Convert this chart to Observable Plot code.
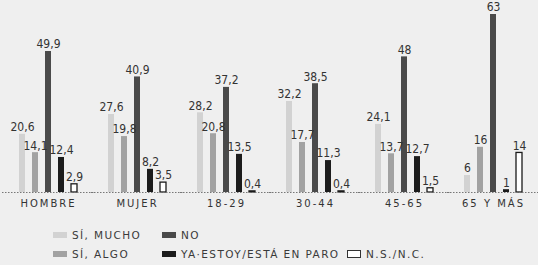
<!DOCTYPE html>
<html>
<head>
<meta charset="utf-8">
<script src="https://cdn.jsdelivr.net/npm/d3@7"></script>
<script src="https://cdn.jsdelivr.net/npm/@observablehq/plot@0.6"></script>
<style>
  html, body { margin: 0; padding: 0; background: #efefef; }
  #chart { width: 538px; height: 265px; overflow: hidden; background: #efefef; }
  #chart svg { display: block; background: #efefef; }
  #chart svg g[aria-label="fx-axis tick label"] text { letter-spacing: 2px; }
  .legend { position: relative; height: 50px; font-family: "DejaVu Sans", sans-serif; font-size: 10.5px; letter-spacing: 1.4px; color: #3a3a3a; }
  .legend .item { position: absolute; display: flex; align-items: center; white-space: nowrap; line-height: 12px; }
  .legend .sw { width: 14px; height: 6px; margin-right: 5px; box-sizing: border-box; }
</style>
</head>
<body>
<div id="chart"></div>
<script>
const groups = ["HOMBRE", "MUJER", "18-29", "30-44", "45-65", "65 Y MÁS"];
const series = ["SÍ, MUCHO", "SÍ, ALGO", "NO", "YA·ESTOY/ESTÁ EN PARO", "N.S./N.C."];
const siMucho = [20.6, 27.6, 28.2, 32.2, 24.1, 6];
const siAlgo = [14.1, 19.8, 20.8, 17.7, 13.7, 16];
const no = [49.9, 40.9, 37.2, 38.5, 48, 63];
const paro = [12.4, 8.2, 13.5, 11.3, 12.7, 1];
const nsnc = [2.9, 3.5, 0.4, 0.4, 1.5, 14];
const seriesValues = [siMucho, siAlgo, no, paro, nsnc];
const fills = ["#d2d2d2", "#a2a2a2", "#4a4a4a", "#1c1c1c", "#ffffff"];

const data = [];
groups.forEach((g, gi) => {
  series.forEach((s, si) => {
    data.push({group: g, series: s, value: seriesValues[si][gi]});
  });
});

const fmt = v => String(v).replace(".", ",");

const plot = Plot.plot({
  width: 538,
  height: 215,
  marginLeft: 2,
  marginRight: 0,
  marginTop: 14,
  marginBottom: 23,
  style: {background: "#efefef", fontFamily: "DejaVu Sans, sans-serif"},
  fx: {domain: groups, paddingInner: 0.33, paddingOuter: 0.16, label: null, axis: "bottom", tickSize: 0, tickPadding: 7, fontSize: 11},
  x: {domain: series, padding: 0.4, paddingOuter: 0, axis: null},
  y: {domain: [0, 63], axis: null},
  color: {domain: series, range: fills},
  marks: [
    Plot.barY(data, {fx: "group", x: "series", y: "value", fill: "series", insetLeft: 1, insetRight: 1,
      stroke: d => d.series === "N.S./N.C." ? "#1a1a1a" : "none", strokeWidth: 1.3}),
    Plot.ruleY([0], {stroke: "#777", strokeDasharray: "1.5,1.5", insetLeft: -16, insetRight: -16}),
    Plot.text(data, {fx: "group", x: "series", y: "value", text: d => fmt(d.value), dy: -7,
      fontFamily: "Liberation Sans Narrow, DejaVu Sans Condensed, sans-serif", fontSize: 12, fill: "#333"})
  ]
});
plot.style.color = "#333";
document.getElementById("chart").appendChild(plot);

// legend
const legend = document.createElement("div");
legend.className = "legend";
const items = [
  [0, 53, 14], [2, 162, 14],
  [1, 53, 33], [3, 162, 33], [4, 347, 33]
];
items.forEach(([si, left, top]) => {
  const it = document.createElement("div");
  it.className = "item";
  it.style.left = left + "px";
  it.style.top = top + "px";
  const sw = document.createElement("span");
  sw.className = "sw";
  sw.style.background = fills[si];
  if (si === 4) { sw.style.border = "1.3px solid #333"; sw.style.height = "8px"; }
  const t = document.createElement("span");
  t.textContent = series[si];
  it.appendChild(sw); it.appendChild(t);
  legend.appendChild(it);
});
document.getElementById("chart").appendChild(legend);
</script>
</body>
</html>
